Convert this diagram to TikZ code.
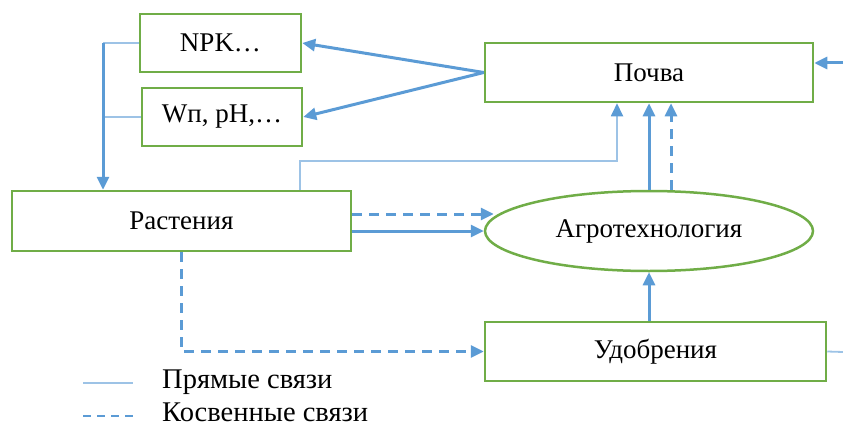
\documentclass[tikz,border=0pt]{standalone}
\usepackage{fontspec}
\setmainfont{Liberation Serif}
\usetikzlibrary{arrows.meta,shapes.geometric}
\definecolor{boxgreen}{HTML}{70AD47}
\definecolor{linkblue}{HTML}{5B9BD5}
\definecolor{thinblue}{HTML}{9DC3E6}
\begin{document}
\begin{tikzpicture}[x=1pt,y=-1pt,
	font=\fontsize{27}{31}\selectfont,
	block/.style={rectangle,draw=boxgreen,line width=2.5pt,fill=white,inner sep=0},
	oval/.style={ellipse,draw=boxgreen,line width=2.5pt,fill=white,inner sep=0},
	tip/.style={-{Triangle[length=13pt,width=12pt,color=linkblue]}},
	direct/.style={draw=thinblue,line width=1.8pt},
	link/.style={draw=linkblue,line width=3pt,tip},
	indirect/.style={draw=linkblue,line width=3pt,dash pattern=on 10pt off 7pt,tip},
	legend/.style={anchor=west,inner sep=0,font=\fontsize{28.5}{32}\selectfont}]
\useasboundingbox (0,0) rectangle (843,428);
\node[block,minimum width=161pt,minimum height=58pt] (npk) at (220.5,43) {NPK\dots};
\node[block,minimum width=160pt,minimum height=58pt] (wp) at (222,117) {Wп, pH,\dots};
\node[block,minimum width=339pt,minimum height=60pt] (rast) at (181.5,221) {Растения};
\node[block,minimum width=328pt,minimum height=59pt] (pochva) at (649,72.5) {Почва};
\node[oval,minimum width=328pt,minimum height=80pt] (agro) at (649,231) {Агротехнология};
\node[block,minimum width=341pt,minimum height=59pt] (udob) at (655.5,351.5) {Удобрения};
\coordinate (lv) at (103,43);
\coordinate (t1) at (300,161);
\coordinate (t2) at (617,161);
\coordinate (inR) at (843,63);
\coordinate (outR) at (843,352);
\draw[direct] (npk.west) -- (lv);
\draw[direct] (wp.west) -- (lv |- wp.west);
\draw[link] (lv) -- (lv |- rast.north);
\draw[link] (pochva.west) -- (npk.east);
\draw[link] (pochva.west) -- (wp.east);
\draw[link] (inR) -- (inR -| pochva.east);
\draw[direct,tip] (rast.north -| t1) -- (t1) -- (t2) -- (t2 |- pochva.south);
\draw[link] (agro.north) -- (agro.north |- pochva.south);
\draw[indirect] ([xshift=22pt]agro.north) -- ([xshift=22pt]agro.north |- pochva.south);
\draw[indirect] ([yshift=7pt]rast.east) -- ([yshift=7pt,xshift=10pt]rast.east -| agro.west);
\draw[link] (rast.east |- agro.west) -- (agro.west);
\draw[indirect] (rast.south) |- (udob.west);
\draw[link] (agro.south |- udob.north) -- (agro.south);
\draw[direct] (udob.east) -- (outR);
\coordinate (l1) at (83,383);
\coordinate (l2) at (83,416);
\draw[direct] (l1) -- ++(50,0);
\draw[draw=linkblue,line width=2.5pt,dash pattern=on 8pt off 6pt] (l2) -- ++(50,0);
\node[legend] (ltx1) at (162,382) {Прямые связи};
\node[legend] (ltx2) at (162,412) {Косвенные связи};
\end{tikzpicture}
\end{document}
